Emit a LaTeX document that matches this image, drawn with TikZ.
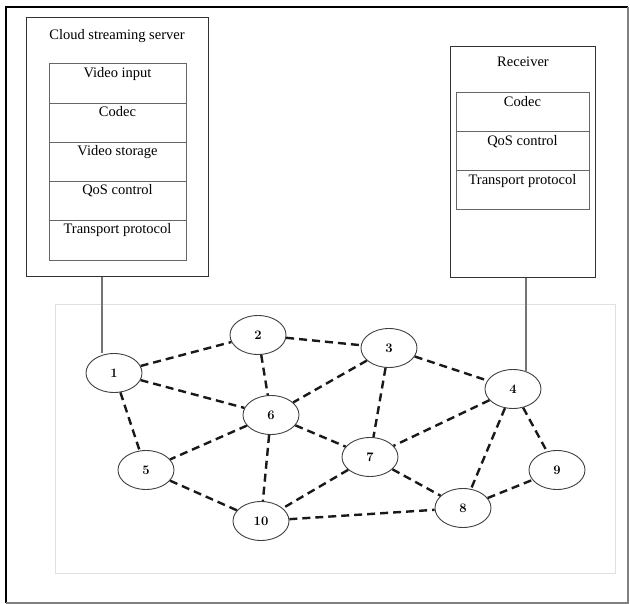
\documentclass[tikz,border=0pt]{standalone}
\usepackage{fontspec}
\setmainfont{Liberation Serif}
\newfontfamily\numfont{Latin Modern Roman}
\usetikzlibrary{shapes.geometric}
\begin{document}
\begin{tikzpicture}[x=1pt,y=-1pt,
  boxline/.style={draw=black!80,line width=1pt},
  cellline/.style={draw=black!60,line width=0.8pt},
  boxtitle/.style={font=\fontsize{14.5}{16}\selectfont,inner sep=0pt,anchor=north},
  celltext/.style={font=\fontsize{14.5}{16}\selectfont,inner sep=0pt,anchor=north},
  host/.style={draw=black!75,line width=0.9pt,ellipse,minimum width=56pt,minimum height=39pt,
               inner sep=0pt,fill=white,font=\numfont\bfseries\fontsize{13}{14}\selectfont},
  link/.style={line width=2.4pt,dash pattern=on 8pt off 5pt,draw=black!90},
  uplink/.style={draw=black!55,line width=1.3pt}]
\useasboundingbox (0,0) rectangle (630,604);
\fill[white] (0,0) rectangle (630,604);
% outer frame
\draw[black,line width=2pt] (6,603) -- (6,7) -- (628,7);
\draw[black!50,line width=1.2pt] (6,603) -- (628,603) -- (628,7);
% network area
\draw[black!12,line width=1pt] (55,305) rectangle (615,573);

% cloud streaming server
\draw[boxline] (26,18) rectangle (208,277);
\node[boxtitle] (srvtitle) at (117,29) {Cloud streaming server};
\draw[cellline] (49,63) rectangle (186,260);
\foreach \yy in {103,142,181,220}{\draw[cellline] (49,\yy) -- (186,\yy);}
\node[celltext] (s1) at (117.5,67) {Video input};
\node[celltext] (s2) at (117.5,106) {Codec};
\node[celltext] (s3) at (117.5,145) {Video storage};
\node[celltext] (s4) at (117.5,184) {QoS control};
\node[celltext] (s5) at (117.5,223) {Transport protocol};
\coordinate (srvout) at (102,277);

% receiver
\draw[boxline] (450,47) rectangle (595,278);
\node[boxtitle] (rcvtitle) at (523,57) {Receiver};
\draw[cellline] (456,92) rectangle (589,209);
\foreach \yy in {131,170}{\draw[cellline] (456,\yy) -- (589,\yy);}
\node[celltext] (r1) at (522.5,96) {Codec};
\node[celltext] (r2) at (522.5,135) {QoS control};
\node[celltext] (r3) at (522.5,174) {Transport protocol};
\coordinate (rcvout) at (526,278);

% network hosts
\node[host] (n1) at (114,373) {1};
\node[host] (n2) at (258,335) {2};
\node[host] (n3) at (389,348) {3};
\node[host] (n4) at (513,389) {4};
\node[host] (n5) at (146,470) {5};
\node[host] (n6) at (271,415) {6};
\node[host] (n7) at (370,457) {7};
\node[host] (n8) at (463,508) {8};
\node[host] (n9) at (557,470) {9};
\node[host] (n10) at (261,521) {10};

% access lines
\draw[uplink] (srvout) -- (srvout |- n1.north);
\draw[uplink] (rcvout) -- ([yshift=-3pt]rcvout |- n4.north);

% links
\foreach \a/\b in {n1/n2,n1/n6,n1/n5,n2/n3,n2/n6,n3/n6,n3/n7,n3/n4,n4/n7,n4/n8,n4/n9,
                   n6/n5,n6/n7,n6/n10,n5/n10,n7/n10,n7/n8,n10/n8,n8/n9}
  \draw[link] (\a) -- (\b);
\end{tikzpicture}
\end{document}
